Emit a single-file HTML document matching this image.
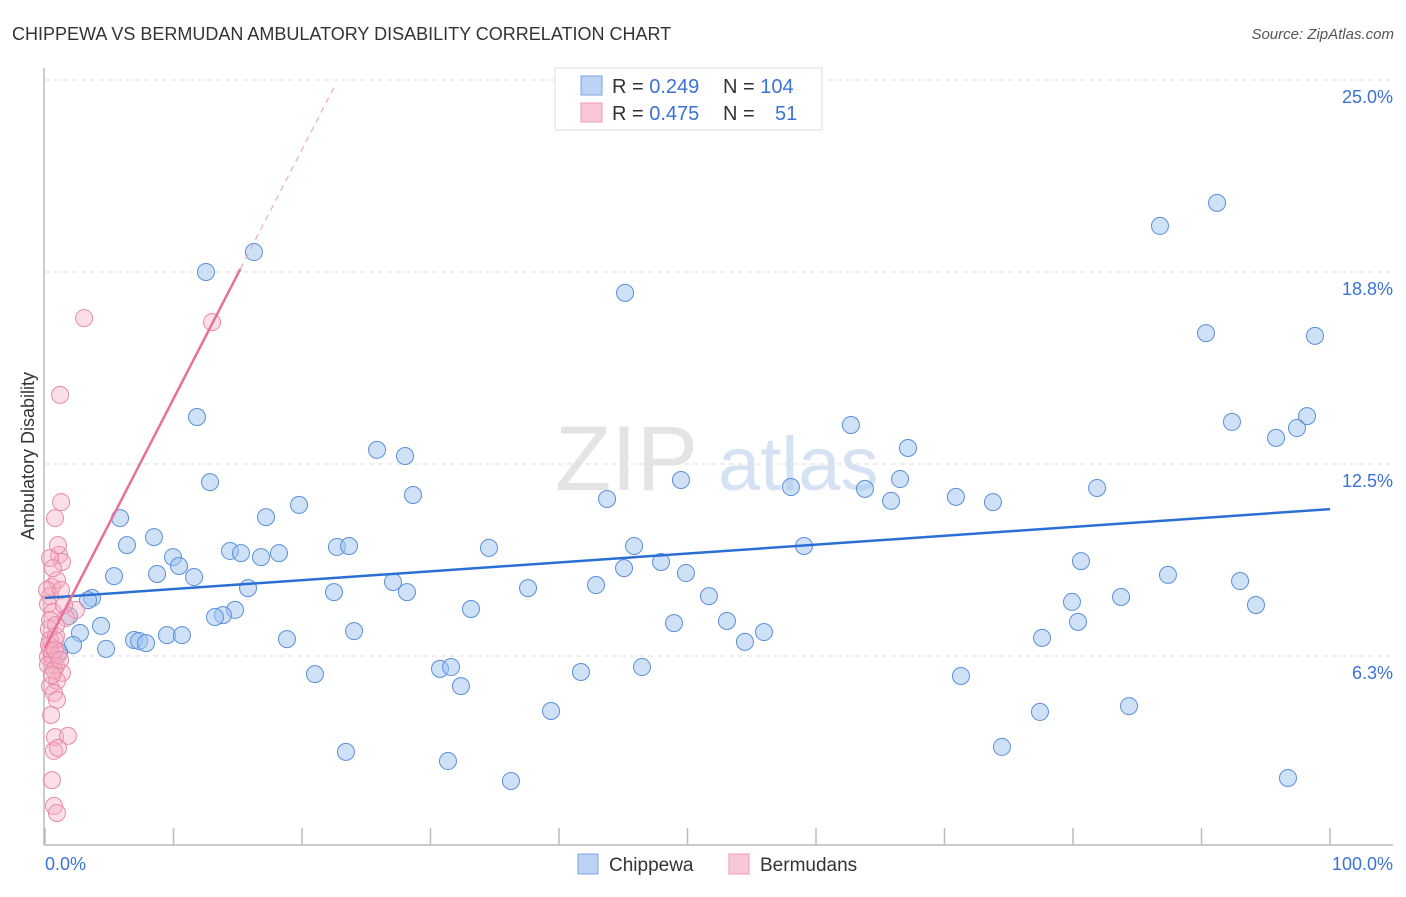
<!DOCTYPE html>
<html><head><meta charset="utf-8"><style>
body{margin:0;background:#fff;font-family:"Liberation Sans",sans-serif}
svg text{font-family:"Liberation Sans",sans-serif}
</style></head><body>
<svg id="chart" width="1406" height="892" xmlns="http://www.w3.org/2000/svg">
<text x="12" y="40" font-size="18" fill="#333">CHIPPEWA VS BERMUDAN AMBULATORY DISABILITY CORRELATION CHART</text>
<text x="1394" y="39" font-size="15" fill="#555" font-style="italic" text-anchor="end">Source: ZipAtlas.com</text>
<g><text x="555" y="490" font-size="92" fill="#e4e4e4" font-family="Liberation Serif,serif">ZIP</text><text x="718" y="490" font-size="76" fill="#d5e2f3">atlas</text></g>
<g id="grid"></g>
<line x1="44" y1="68" x2="44" y2="845" stroke="#bbb" stroke-width="1.5"/>
<line x1="44" y1="845" x2="1393" y2="845" stroke="#bbb" stroke-width="1.5"/>
<text transform="translate(34,456) rotate(-90)" font-size="18" fill="#333" text-anchor="middle">Ambulatory Disability</text>
<text x="45" y="870" font-size="18" fill="#3a72d6">0.0%</text>
<text x="1393" y="870" font-size="18" fill="#3a72d6" text-anchor="end">100.0%</text>
<g id="pts"></g>
<g id="lines"></g>
<g>
<rect x="555" y="68" width="267" height="62" fill="#fff" stroke="#ddd"/>
<rect x="581" y="76" width="21" height="19" fill="#bcd3f5" stroke="#7aa5e6"/>
<rect x="581" y="103" width="21" height="19" fill="#f9c8d6" stroke="#ee9ab3"/>
<text x="612" y="93" font-size="20" fill="#333">R = <tspan fill="#3a72d6">0.249</tspan><tspan x="723">N = </tspan><tspan fill="#3a72d6">104</tspan></text>
<text x="612" y="120" font-size="20" fill="#333">R = <tspan fill="#3a72d6">0.475</tspan><tspan x="723">N = </tspan><tspan x="775" fill="#3a72d6">51</tspan></text>
</g>
<g>
<rect x="578" y="854" width="20" height="20" fill="#bcd3f5" stroke="#7aa5e6"/>
<text x="609" y="871" font-size="19" fill="#333">Chippewa</text>
<rect x="729" y="854" width="20" height="20" fill="#f9c8d6" stroke="#ee9ab3"/>
<text x="760" y="871" font-size="19" fill="#333">Bermudans</text>
</g>
</svg>
<script>
const yTicks=[25,18.75,12.5,6.25];
const yTickLabels=["25.0%","18.8%","12.5%","6.3%"];
const xTicks=[0,10,20,30,40,50,60,70,80,90,100];
const bluePx=[[254,252],[206,272],[625,293],[1160,226],[1217,203],[1206,333],[1315,336],[197,417],[851,425],[1232,422],[1307,416],[1297,428],[1276,438],[377,450],[405,456],[908,448],[210,482],[681,480],[791,487],[865,489],[900,479],[1097,488],[413,495],[299,505],[607,499],[891,501],[956,497],[993,502],[120,518],[266,517],[127,545],[154,537],[230,551],[241,553],[261,557],[279,553],[337,547],[349,546],[489,548],[634,546],[804,546],[173,557],[179,566],[114,576],[157,574],[194,577],[1081,561],[624,568],[661,562],[686,573],[1168,575],[1240,581],[248,588],[393,582],[528,588],[596,585],[334,592],[407,592],[92,598],[88,600],[1121,597],[709,596],[1072,602],[1256,605],[471,609],[235,610],[223,615],[215,617],[69,616],[101,626],[727,621],[674,623],[1078,622],[80,633],[167,635],[182,635],[354,631],[764,632],[134,640],[139,641],[146,643],[287,639],[1042,638],[745,642],[73,645],[106,649],[59,652],[642,667],[440,669],[451,667],[581,672],[315,674],[961,676],[461,686],[551,711],[1040,712],[1129,706],[1002,747],[346,752],[448,761],[511,781],[1288,778]];
const pinkPx=[[84,318],[212,322],[60,395],[61,502],[55,518],[59,555],[62,562],[50,558],[52,587],[57,580],[50,596],[48,604],[76,610],[53,612],[66,618],[49,629],[55,640],[50,650],[53,660],[48,657],[56,666],[62,673],[50,686],[57,681],[54,693],[57,700],[51,715],[55,737],[68,736],[54,751],[58,748],[52,780],[54,806],[57,813],[50,640],[49,645],[52,655],[48,665],[54,670],[56,636],[58,655],[55,650],[60,660],[52,675],[50,620],[56,625],[47,590],[61,590],[64,605],[53,568],[58,545]];
// convert read positions into data values (percent)
const blueX=bluePx.map(p=>+((p[0]-45)/12.85).toFixed(2));
const blueY=bluePx.map(p=>+(25-(p[1]-80)/30.72).toFixed(2));
const pinkX=pinkPx.map(p=>+((p[0]-45)/12.85).toFixed(2));
const pinkY=pinkPx.map(p=>+(25-(p[1]-80)/30.72).toFixed(2));
const blueTrend=[8.14,11.03];
const pinkTrend=[6.51,0.8115];
const NS="http://www.w3.org/2000/svg";
const sx=v=>45+v*12.85, sy=v=>80+(25-v)*30.72;
function mk(t,a,p){const e=document.createElementNS(NS,t);for(const k in a)e.setAttribute(k,a[k]);document.getElementById(p).appendChild(e);return e;}
yTicks.forEach((t,i)=>{
 const l=mk('line',{x1:45,x2:1393,y1:sy(t),y2:sy(t),stroke:'#ddd','stroke-dasharray':'5,4'},'grid');
 
 
 const tx=mk('text',{x:1393,y:sy(t)+23,'font-size':18,fill:'#3a72d6','text-anchor':'end'},'grid');
 tx.textContent=yTickLabels[i];
 
 
});
xTicks.forEach(t=>{
 const l=mk('line',{x1:sx(t),x2:sx(t),y1:828,y2:845,stroke:'#bbb','stroke-width':1.5},'grid');
 
 
});
blueX.forEach((x,i)=>{
 const c=mk('circle',{cx:sx(x),cy:sy(blueY[i]),r:8.5,fill:'rgba(160,195,240,0.5)',stroke:'#5b8fdb','stroke-width':1},'pts');
 
 
});
pinkX.forEach((x,i)=>{
 const c=mk('circle',{cx:sx(x),cy:sy(pinkY[i]),r:8.5,fill:'rgba(245,175,195,0.4)',stroke:'#e88aa8','stroke-width':1},'pts');
 
 
});
const bl=mk('line',{x1:sx(0),y1:sy(blueTrend[0]),x2:sx(100),y2:sy(blueTrend[1]),stroke:'#2a6fd4','stroke-width':2.5},'lines');


const pf=x=>pinkTrend[0]+pinkTrend[1]*x;
const pl=mk('line',{x1:sx(0),y1:sy(pf(0)),x2:sx(15.2),y2:sy(pf(15.2)),stroke:'#e8709a','stroke-width':2.5},'lines');


const pd=mk('line',{x1:sx(15.2),y1:sy(pf(15.2)),x2:sx(22.6),y2:sy(pf(22.6)),stroke:'#eeaac0','stroke-width':1.2,'stroke-dasharray':'6,5'},'lines');


</script>
</body></html>
